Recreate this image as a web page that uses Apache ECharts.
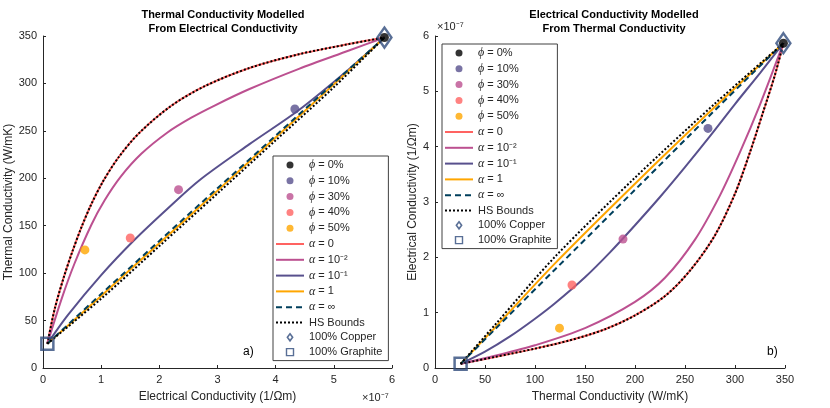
<!DOCTYPE html>
<html>
<head>
<meta charset="utf-8">
<script src="https://cdn.jsdelivr.net/npm/echarts@6/dist/echarts.min.js"></script>
<style>
html,body{margin:0;padding:0;background:#fff}
#chart{width:830px;height:408px}
</style>
</head>
<body>
<div id="chart"></div>
<script>
var chart = echarts.init(document.getElementById('chart'));

// ---- measured points (phi = graphite volume fraction) ----
var phiNames = ['ϕ = 0%', 'ϕ = 10%', 'ϕ = 30%', 'ϕ = 40%', 'ϕ = 50%'];
var phiColors = ['#000000', '#58508d', '#bc5090', '#ff6361', '#ffa600'];
var phiSigma = [5.87, 4.33, 2.33, 1.50, 0.72];   // electrical, x 1e-7 axis units
var phiK = [348.4, 273, 188, 137, 124.5];        // thermal, W/mK

var copper = [5.87, 348.4];
var graphite = [0.075, 25.6];

// ---- model curves, panel a) (sigma -> k) ----
var hsUpSigA = [0.075, 0.2, 0.35, 0.5, 0.65, 0.82, 1.03, 1.3, 1.66, 2.2, 2.78, 3.55, 4.40, 5.26, 5.87];
var hsUpKA = [25.6, 61.9, 94.2, 121.9, 146.7, 171.3, 196.5, 222.2, 248.1, 276.2, 297.1, 316.3, 330.8, 341.5, 348.4];
var hsLoSigA = [0.075, 1, 2, 3, 4, 5, 5.87];
var hsLoKA = [25.6, 73, 128.5, 184, 240, 296, 348.4];
var a2SigA = [0.075, 0.32, 0.54, 0.83, 1.06, 1.34, 1.69, 2.14, 2.55, 2.95, 3.55, 4.40, 5.26, 5.87];
var a2KA = [25.6, 72.9, 109.9, 150.8, 176.8, 202, 225.8, 248.3, 263.9, 276.7, 294.1, 315.4, 334.7, 348.4];
var a1SigA = [0.075, 0.43, 1.0, 1.57, 2.14, 2.69, 3.55, 4.40, 5.26, 5.87];
var a1KA = [25.6, 56, 98, 135, 168, 198, 236, 272, 315, 348.4];
var aOneSigA = [0.075, 1, 2, 3, 4, 5, 5.87];
var aOneKA = [25.6, 76, 131.5, 187, 243, 299, 348.4];
var aInfSigA = [0.075, 1, 2, 3, 4, 5, 5.87];
var aInfKA = [25.6, 78, 134, 189.5, 245, 300.5, 348.4];

// ---- model curves, panel b) (k -> sigma) ----
var hsLoKB = [25.6, 60, 100, 135, 170, 200, 230, 255, 280, 300, 315, 328, 340, 348.4];
var hsLoSigB = [0.075, 0.2, 0.35, 0.5, 0.7, 0.95, 1.3, 1.76, 2.4, 3.15, 3.9, 4.62, 5.3, 5.87];
var hsUpKB = [25.6, 60, 120, 200, 280, 348.4];
var hsUpSigB = [0.075, 0.78, 2.01, 3.44, 4.78, 5.87];
var a2KB = [25.6, 60, 100, 150, 200, 230, 260, 285, 305, 325, 348.4];
var a2SigB = [0.075, 0.22, 0.41, 0.72, 1.195, 1.63, 2.32, 3.12, 3.9, 4.76, 5.87];
var a1KB = [25.6, 50, 75, 100, 120, 150, 175, 200, 225, 250, 275, 300, 325, 348.4];
var a1SigB = [0.075, 0.295, 0.57, 0.89, 1.17, 1.64, 2.09, 2.58, 3.09, 3.63, 4.19, 4.77, 5.33, 5.87];
var aOneKB = [25.6, 60, 120, 200, 280, 348.4];
var aOneSigB = [0.075, 0.73, 1.89, 3.33, 4.72, 5.87];
var aInfKB = [25.6, 60, 120, 200, 280, 348.4];
var aInfSigB = [0.075, 0.7, 1.78, 3.22, 4.66, 5.87];

var alphaNames = ['α = 0', 'α = 10⁻²', 'α = 10⁻¹', 'α = 1', 'α = ∞'];
var alphaColors = ['#ff6361', '#bc5090', '#58508d', '#ffa600', '#003f5c'];
var markColor = '#2f4b7c';
var ink = '#262626';
var font = 'Liberation Sans, Arial, sans-serif';

function zip(xs, ys) {
    var out = [];
    for (var i = 0; i < xs.length; i++) out.push([xs[i], ys[i]]);
    return out;
}

function line(name, xs, ys, color, width, type, idx, z) {
    return {
        name: name, type: 'line', xAxisIndex: idx, yAxisIndex: idx,
        data: zip(xs, ys), symbol: 'none', smooth: 0.3,
        lineStyle: {color: color, width: width, type: type},
        itemStyle: {color: color}, z: z
    };
}

function panelSeries(idx, curves, px, py, cu, gr) {
    var s = [];
    for (var i = 0; i < curves.length; i++) {
        var c = curves[i];
        s.push(line(c[0], c[1], c[2], c[3], c[4], c[5], idx, c[6]));
    }
    for (var j = 0; j < phiNames.length; j++) {
        s.push({
            name: phiNames[j], type: 'scatter', xAxisIndex: idx, yAxisIndex: idx,
            data: [[px[j], py[j]]], symbol: 'circle', symbolSize: 9,
            itemStyle: {color: phiColors[j]}, z: 5
        });
    }
    s.push({
        name: '100% Copper', type: 'scatter', xAxisIndex: idx, yAxisIndex: idx,
        data: [cu], symbol: 'diamond', symbolSize: [14, 20],
        itemStyle: {color: 'rgba(0,0,0,0)', borderColor: markColor, borderWidth: 2.5}, z: 6
    });
    s.push({
        name: '100% Graphite', type: 'scatter', xAxisIndex: idx, yAxisIndex: idx,
        data: [gr], symbol: 'rect', symbolSize: 12,
        itemStyle: {color: 'rgba(0,0,0,0)', borderColor: markColor, borderWidth: 2.5}, z: 6
    });
    return s;
}

var curvesA = [
    [alphaNames[0], hsUpSigA, hsUpKA, alphaColors[0], 2, 'solid', 2],
    [alphaNames[1], a2SigA, a2KA, alphaColors[1], 2, 'solid', 2],
    [alphaNames[2], a1SigA, a1KA, alphaColors[2], 2, 'solid', 2],
    [alphaNames[3], aOneSigA, aOneKA, alphaColors[3], 2, 'solid', 2],
    [alphaNames[4], aInfSigA, aInfKA, alphaColors[4], 2, [6, 4], 3],
    ['HS Bounds', hsUpSigA, hsUpKA, '#000', 2, [2, 2], 4],
    ['HS Bounds', hsLoSigA, hsLoKA, '#000', 2, [2, 2], 4]
];
var curvesB = [
    [alphaNames[0], hsLoKB, hsLoSigB, alphaColors[0], 2, 'solid', 2],
    [alphaNames[1], a2KB, a2SigB, alphaColors[1], 2, 'solid', 2],
    [alphaNames[2], a1KB, a1SigB, alphaColors[2], 2, 'solid', 2],
    [alphaNames[3], aOneKB, aOneSigB, alphaColors[3], 2, 'solid', 2],
    [alphaNames[4], aInfKB, aInfSigB, alphaColors[4], 2, [6, 4], 3],
    ['HS Bounds', hsLoKB, hsLoSigB, '#000', 2, [2, 2], 4],
    ['HS Bounds', hsUpKB, hsUpSigB, '#000', 2, [2, 2], 4]
];

var legendNames = phiNames.concat(alphaNames, ['HS Bounds', '100% Copper', '100% Graphite']);
var legendData = legendNames.map(function (n) {
    if (n === '100% Copper') {
        return {name: n, icon: 'path://M3,0L6,4L3,8L0,4Z',
            itemStyle: {color: '#fff', borderColor: markColor, borderWidth: 1.6}};
    }
    if (n === '100% Graphite') {
        return {name: n, icon: 'path://M0,0L10,0L10,10L0,10Z',
            itemStyle: {color: '#fff', borderColor: markColor, borderWidth: 1.4}};
    }
    if (phiNames.indexOf(n) < 0) {
        // line entries: hide the marker that echarts puts in the middle
        return {name: n, itemStyle: {opacity: 0}};
    }
    return {name: n};
});

function legend(left, top) {
    return {
        orient: 'vertical', left: left, top: top,
        data: legendData, itemWidth: 28, itemHeight: 7, itemGap: 3.8,
        padding: [3, 6, 3, 2], borderColor: '#404040', borderWidth: 1,
        backgroundColor: '#fff', selectedMode: false,
        formatter: function (n) { return n.replace(/^(ϕ|α)/, '{g|$1}'); },
        textStyle: {
            fontFamily: font, fontSize: 11, color: ink,
            rich: {g: {fontFamily: 'Liberation Serif, serif', fontStyle: 'italic', fontSize: 12, color: ink}}
        }
    };
}

function axisBase(min, max, interval, name, gap, idx) {
    return {
        type: 'value', gridIndex: idx, min: min, max: max, interval: interval,
        name: name, nameLocation: 'middle', nameGap: gap,
        nameTextStyle: {fontFamily: font, fontSize: 12, color: ink},
        axisLine: {show: true, lineStyle: {color: ink, width: 1}},
        axisTick: {show: true, inside: true, length: 3, lineStyle: {color: ink}},
        axisLabel: {fontFamily: font, fontSize: 11, color: ink, margin: 6},
        splitLine: {show: false}
    };
}

var option = {
    animation: false,
    backgroundColor: '#fff',
    title: [
        {text: 'Thermal Conductivity Modelled\nFrom Electrical Conductivity', left: 218, top: 3, textAlign: 'center',
            textStyle: {fontFamily: font, fontSize: 11, fontWeight: 'bold', color: '#000', lineHeight: 14}},
        {text: 'Electrical Conductivity Modelled\nFrom Thermal Conductivity', left: 609, top: 3, textAlign: 'center',
            textStyle: {fontFamily: font, fontSize: 11, fontWeight: 'bold', color: '#000', lineHeight: 14}}
    ],
    grid: [
        {left: 43, right: 438, top: 36, bottom: 40},
        {left: 435, right: 45, top: 36, bottom: 40}
    ],
    xAxis: [
        axisBase(0, 6, 1, 'Electrical Conductivity (1/Ωm)', 23, 0),
        axisBase(0, 350, 50, 'Thermal Conductivity (W/mK)', 23, 1)
    ],
    yAxis: [
        axisBase(0, 350, 50, 'Thermal Conductivity (W/mK)', 24, 0),
        axisBase(0, 6, 1, 'Electrical Conductivity (1/Ωm)', 8, 1)
    ],
    legend: [legend(273, 156), legend(442, 44)],
    graphic: [
        {type: 'text', left: 362, top: 392, style: {text: '×10⁻⁷', fontFamily: font, fontSize: 11, fill: ink}},
        {type: 'text', left: 437, top: 21, style: {text: '×10⁻⁷', fontFamily: font, fontSize: 11, fill: ink}},
        {type: 'text', left: 243, top: 346, style: {text: 'a)', fontFamily: font, fontSize: 12, fill: '#000'}},
        {type: 'text', left: 767, top: 346, style: {text: 'b)', fontFamily: font, fontSize: 12, fill: '#000'}}
    ],
    series: panelSeries(0, curvesA, phiSigma, phiK, copper, graphite)
        .concat(panelSeries(1, curvesB, phiK, phiSigma, [copper[1], copper[0]], [graphite[1], graphite[0]]))
};

chart.setOption(option);
</script>
</body>
</html>
